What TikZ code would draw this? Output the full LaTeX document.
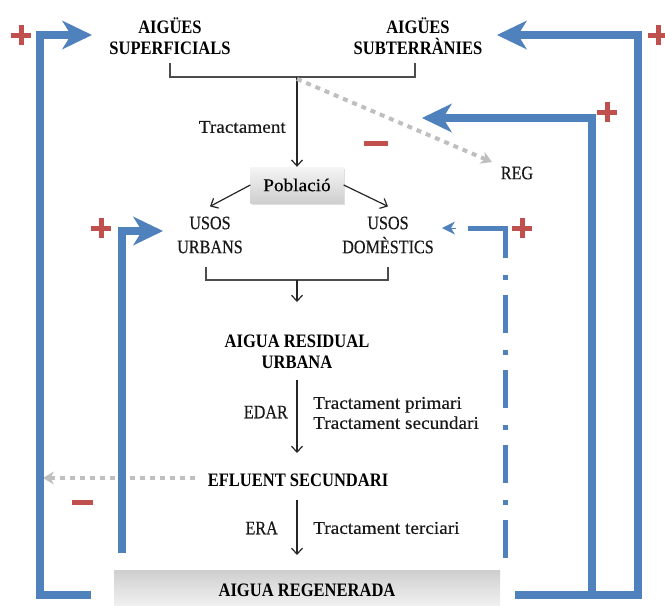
\documentclass[tikz,border=0pt]{standalone}
\usepackage{fontspec}
\setmainfont{Liberation Serif}
\newfontfamily\lowfont{Liberation Serif}[FakeStretch=1.07,FakeBold=0.4]
\newfontfamily\capfont{Liberation Serif}[FakeStretch=0.85,FakeBold=0.4]
\newfontfamily\bldfont{Liberation Serif}[FakeStretch=0.87]
\usetikzlibrary{arrows.meta,shadows}
\definecolor{lblue}{HTML}{4F81BD}
\definecolor{lred}{HTML}{C0504D}
\begin{document}
\begin{tikzpicture}[x=1pt,y=-1pt,
  capr/.style={font=\capfont\fontsize{19}{24}\selectfont, align=center, inner sep=0pt, text=black!90},
  bld/.style={font=\bldfont\fontsize{19}{21.5}\selectfont\bfseries, align=center, inner sep=0pt},
  lowr/.style={font=\lowfont\fontsize{18}{20}\selectfont, inner sep=0pt, text=black!90},
  blk/.style={draw=black!85, line width=1.2pt, -{Straight Barb[length=6pt,width=11pt]}},
  brk/.style={draw=black!70, line width=1.5pt},
  loopline/.style={draw=lblue, line width=8.5pt, line join=miter},
  bighead/.style={-{Stealth[length=30pt,width=29pt,inset=9pt,line width=0pt]}},
  dotg/.style={draw=black!25, line width=4pt, dash pattern=on 5pt off 5pt, -{Stealth[length=11pt,width=13pt,line width=0pt]}},
  sgn/.style={draw=lred, line width=5pt},
  plussign/.pic={\draw[sgn] (-10,0) -- (10,0) (0,-10) -- (0,10);},
  pobbox/.style={font=\lowfont\fontsize{18}{20}\selectfont, minimum width=93pt, minimum height=36pt, inner sep=0pt,
    top color=gray!8, bottom color=gray!38, drop shadow={shadow xshift=1pt, shadow yshift=-2pt, opacity=0.25}},
  regbox/.style={font=\bldfont\fontsize{19}{20}\selectfont\bfseries, minimum width=386pt, minimum height=40pt, inner sep=0pt,
    top color=gray!38, bottom color=gray!8},
]
\clip (0,0) rectangle (665,606);
\fill[white] (0,0) rectangle (665,606);

% text nodes
\node[bld] (supf) at (170,36) {AIGÜES\\SUPERFICIALS};
\node[bld] (subt) at (418,36) {AIGÜES\\SUBTERRÀNIES};
\node[lowr, anchor=east] (tract) at (286,127) {Tractament};
\node[pobbox] (pob) at (297,185) {Població};
\node[capr] (reg) at (517,173) {REG};
\node[capr] (usu) at (210,235) {USOS\\URBANS};
\node[capr] (usd) at (388,235) {USOS\\DOMÈSTICS};
\node[bld] (aru) at (297,352) {AIGUA RESIDUAL\\URBANA};
\node[capr, anchor=east] (edar) at (288,412) {EDAR};
\node[lowr, anchor=west, align=left] (trps) at (313,413) {Tractament primari\\Tractament secundari};
\node[bld] (efl) at (298,480) {EFLUENT SECUNDARI};
\node[capr, anchor=east] (era) at (278,528) {ERA};
\node[lowr, anchor=west] (ter) at (313,528) {Tractament terciari};
\node[regbox] (regen) at (307,590) {AIGUA REGENERADA};

% bracket 1 and arrows
\coordinate (b1l) at (170,63);
\coordinate (b1r) at (415,63);
\coordinate (b1m) at (297,77);
\draw[brk] (b1l) |- (b1r |- b1m) -- (b1r);
\draw[blk] (b1m) -- (pob.north);
\coordinate (regtip) at (492,162);
\draw[dotg] ([yshift=-2pt]b1m) -- (regtip);

% Poblacio to usos
\draw[blk] (pob.west) -- ([yshift=10pt]usu.north);
\draw[blk] (pob.east) -- ([yshift=10pt]usd.north);

% bracket 2
\coordinate (b2l) at (206,267);
\coordinate (b2r) at (388,267);
\coordinate (b2m) at (297,280);
\coordinate (a1) at (297,302);
\draw[brk] (b2l) |- (b2r |- b2m) -- (b2r);
\draw[blk] (b2m) -- (a1);

% EDAR
\coordinate (e1) at (297,380);
\coordinate (e2) at (297,453);
\draw[blk] (e1) -- (e2);

% effluent dotted
\coordinate (effs) at (195,478);
\coordinate (efft) at (43,478);
\draw[dotg] (effs) -- (efft);

% ERA
\coordinate (r1) at (297,500);
\coordinate (r2) at (297,555);
\draw[blk] (r1) -- (r2);

% blue loops
\coordinate (L1s) at (91,595);
\coordinate (L1a) at (40,595);
\coordinate (L1b) at (40,35);
\coordinate (L1t) at (92,35);
\draw[loopline, bighead] (L1s) -- (L1a) -- (L1b) -- (L1t);

\coordinate (L2s) at (122,553);
\coordinate (L2a) at (122,231);
\coordinate (L2t) at (163,231);
\draw[loopline, bighead] (L2s) -- (L2a) -- (L2t);

\coordinate (L3s) at (592,595);
\coordinate (L3a) at (592,118);
\coordinate (L3t) at (422,118);
\draw[loopline, bighead] (L3s) -- (L3a) -- (L3t);

\coordinate (L4s) at (515,595);
\coordinate (L4a) at (638,595);
\coordinate (L4b) at (638,35);
\coordinate (L4t) at (497,35);
\draw[loopline, bighead] (L4s) -- (L4a) -- (L4b) -- (L4t);

% dash-dot loop
\coordinate (D0) at (468,228);
\coordinate (D1) at (505,228);
\coordinate (D2) at (505,558);
\coordinate (Dh) at (456,228);
\coordinate (Dt) at (442,228);
\draw[draw=lblue, line width=5pt, line join=miter,
  dash pattern=on 67pt off 17pt on 5pt off 15pt on 38pt off 17pt on 5pt off 15pt on 38pt off 17pt on 5pt off 15pt on 38pt off 17pt on 5pt off 15pt on 40pt off 40pt]
  (D0) -- (D1) -- (D2);
\draw[draw=lblue, line width=0.5pt, -{Stealth[length=13pt,width=13pt,inset=4pt,line width=0pt]}] (Dh) -- (Dt);

% signs
\pic at (21,35) {plussign};
\pic at (658,35) {plussign};
\pic at (607,112) {plussign};
\pic at (101,228) {plussign};
\pic at (522,228) {plussign};
\draw[sgn] (364,143) -- (388,143);
\draw[sgn] (72,502) -- (93,502);
\end{tikzpicture}
\end{document}
